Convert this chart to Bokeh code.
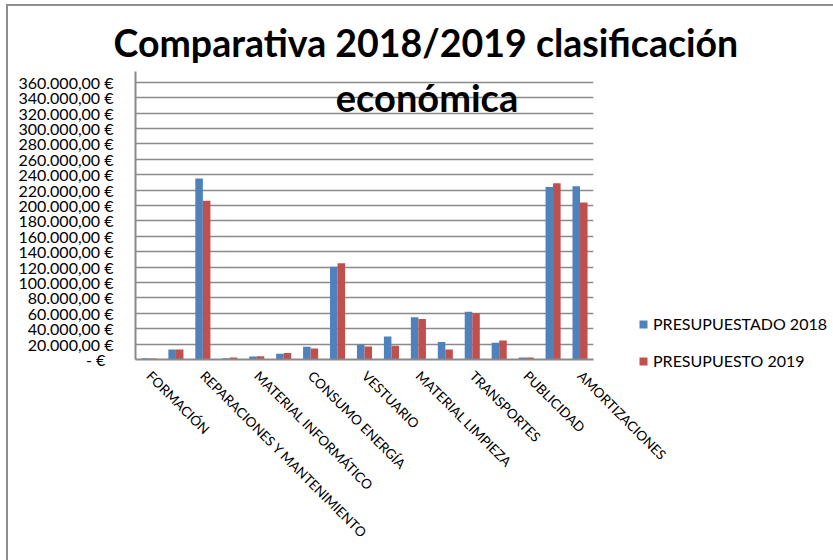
from bokeh.plotting import figure
from bokeh.models import FixedTicker, Label, Legend, LegendItem, ColumnDataSource, Range1d
from bokeh.transform import dodge
from bokeh.embed import file_html
from bokeh.resources import INLINE
import math

# ---- data ----
positions = list(range(1, 18))
category_labels = ["FORMACIÓN", "", "REPARACIONES Y MANTENIMIENTO", "", "MATERIAL INFORMÁTICO", "",
                   "CONSUMO ENERGÍA", "", "VESTUARIO", "", "MATERIAL LIMPIEZA", "", "TRANSPORTES", "",
                   "PUBLICIDAD", "", "AMORTIZACIONES"]
presupuestado_2018 = [1700, 13000, 235000, 1700, 3900, 7400, 16500, 120500, 19600,
                      30000, 55000, 22600, 62000, 21700, 2600, 224000, 225000]
presupuesto_2019 = [1300, 13000, 206000, 2600, 4300, 8300, 14300, 125000, 17000,
                    17800, 52600, 13000, 60000, 24800, 2600, 229000, 204000]
y_ticks = list(range(0, 360001, 20000))
y_tick_labels = ["-   €"] + ["{:,.2f} €".format(v).replace(",", "X").replace(".", ",").replace("X", ".") for v in y_ticks[1:]]
series_names = ["PRESUPUESTADO 2018", "PRESUPUESTO 2019"]
title_lines = ["Comparativa 2018/2019 clasificación", "económica"]

BLUE = "#4F81BD"
RED = "#C0504D"
GRID = "#8A8A8A"
FONT = "Lato"

p = figure(frame_width=458, frame_height=288, output_backend="svg", toolbar_location=None,
           x_range=Range1d(0.5, 17.5), y_range=Range1d(0, 374000),
           min_border_left=127, min_border_right=230, min_border_top=65,
           min_border_bottom=201,
           styles={"border-left": "2px solid #8d8d8d", "border-top": "2px solid #8d8d8d",
                   "margin-left": "6px", "margin-top": "4px"})
p.outline_line_color = None
p.background_fill_color = "white"
p.border_fill_color = "white"

src = ColumnDataSource(dict(x=positions, a=presupuestado_2018, b=presupuesto_2019))
r1 = p.vbar(x=dodge("x", -0.14), top="a", width=0.28, source=src, fill_color=BLUE, line_color=None)
r2 = p.vbar(x=dodge("x", 0.14), top="b", width=0.28, source=src, fill_color=RED, line_color=None)

# title line 1 (above the plot area)
p.title.text = title_lines[0]
p.title.text_font = FONT
p.title.text_font_style = "bold"
p.title.text_font_size = "37.5px"
p.title.text_color = "black"
p.title.align = "left"
p.title.offset = -22
p.title.standoff = 14

# y axis
p.yaxis.ticker = FixedTicker(ticks=y_ticks)
p.yaxis.major_label_overrides = {t: l for t, l in zip(y_ticks, y_tick_labels)}
p.yaxis.major_label_text_font = FONT
p.yaxis.major_label_text_font_size = "16px"
p.yaxis.major_label_text_color = "black"
p.yaxis.major_tick_out = 0
p.yaxis.major_tick_in = 0
p.yaxis.minor_tick_out = 0
p.yaxis.minor_tick_in = 0
p.yaxis.axis_line_color = GRID
p.yaxis.axis_line_width = 2
p.yaxis.major_label_standoff = 22

# x axis
odd = [pos for pos, lab in zip(positions, category_labels) if lab]
p.xaxis.ticker = FixedTicker(ticks=odd)
p.xaxis.major_label_overrides = {pos: lab for pos, lab in zip(positions, category_labels) if lab}
p.xaxis.major_label_orientation = -math.pi / 4
p.xaxis.major_label_text_font = FONT
p.xaxis.major_label_text_font_size = "13.5px"
p.xaxis.major_label_text_color = "black"
p.xaxis.major_tick_out = 0
p.xaxis.major_tick_in = 0
p.xaxis.minor_tick_out = 0
p.xaxis.minor_tick_in = 0
p.xaxis.axis_line_color = GRID
p.xaxis.axis_line_width = 2
p.xaxis.major_label_standoff = 14

p.xgrid.grid_line_color = None
p.ygrid.grid_line_color = GRID
p.ygrid.grid_line_width = 1.5
p.ygrid.ticker = FixedTicker(ticks=y_ticks[1:])

# legend
legend = Legend(items=[LegendItem(label=series_names[0], renderers=[r1]),
                       LegendItem(label=series_names[1], renderers=[r2])],
                location=(45, -11), orientation="vertical")
legend.label_text_font = FONT
legend.label_text_font_size = "16px"
legend.label_text_color = "black"
legend.glyph_width = 10
legend.glyph_height = 10
legend.label_height = 18
legend.spacing = 18
legend.padding = 0
legend.margin = 0
legend.label_standoff = 5
legend.border_line_color = None
legend.background_fill_alpha = 0
p.add_layout(legend, "right")

# title line 2 (overlapping the plot area, as in the original)
p.add_layout(Label(x=11.32, y=341500, text=title_lines[1],
                   text_font=FONT, text_font_style="bold", text_font_size="38px",
                   text_align="center", text_baseline="alphabetic", text_color="black"))

open("out.html", "w").write(file_html(p, INLINE))
